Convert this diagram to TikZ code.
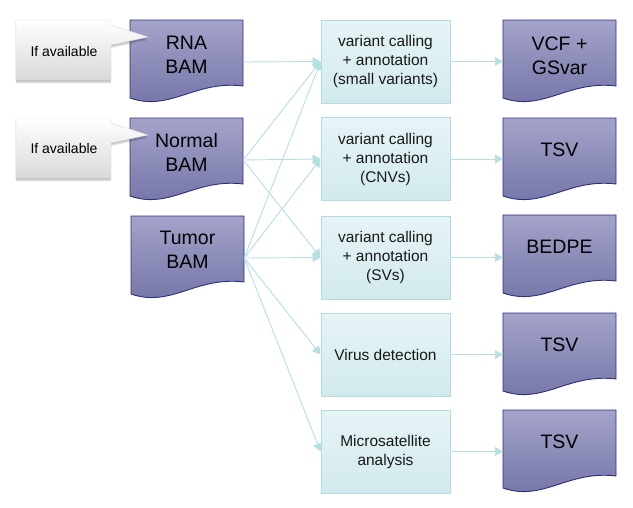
\documentclass[tikz,border=0pt]{standalone}
\usepackage{fontspec}
\setmainfont{Liberation Sans}
\usetikzlibrary{arrows.meta}
\definecolor{docTop}{HTML}{A3A3CA}
\definecolor{docBot}{HTML}{7272A6}
\definecolor{docBorder}{HTML}{2F2F80}
\definecolor{procTop}{HTML}{E6F4F6}
\definecolor{procBot}{HTML}{D2EAED}
\definecolor{procBorder}{HTML}{B3DDE2}
\definecolor{arrowCol}{HTML}{B5DFE3}
\definecolor{callBorder}{HTML}{DADADA}
\tikzset{
  docfill/.style={top color=docTop, bottom color=docBot, draw=docBorder, line width=0.9pt},
  docbox/.style={minimum width=113pt, minimum height=82pt, inner sep=0pt},
  doctext/.style={align=center, font=\fontsize{19.5}{24}\selectfont, text=black, inner sep=0pt},
  proc/.style={draw=procBorder, line width=0.9pt, top color=procTop, bottom color=procBot,
    minimum width=129pt, minimum height=83pt, align=center, inner sep=0pt,
    font=\fontsize{15.5}{19}\selectfont, text=black!90},
  callfill/.style={top color=white, middle color=black!3, bottom color=black!15, draw=callBorder, line width=0.4pt},
  callshadow/.style={fill=black, opacity=0.13},
  calltext/.style={font=\fontsize{14}{17}\selectfont, text=black, inner sep=0pt},
  conn/.style={draw=arrowCol, line width=0.9pt, -{Triangle[length=8pt,width=9pt]}},
}
\newcommand\docshape[2]{\path[docfill,shift={(#1,#2)}] (0,0) -- (113,0) -- (113,66) .. controls (65,60) and (40,92) .. (0,78) -- cycle;}
\newcommand\callpath{(0,0) -- (95,0) -- (95,5) -- (132,17) -- (95,25) -- (95,60) -- (0,60) -- cycle}
\newcommand\callshape[2]{%
  \path[callshadow,shift={(#1-0.5,#2+1.5)}] \callpath;
  \path[callshadow,shift={(#1,#2+3)}] \callpath;
  \path[callfill,shift={(#1,#2)}] \callpath;}
\begin{document}
\begin{tikzpicture}[x=1pt,y=-1pt]
\useasboundingbox (0,0) rectangle (633,507);

% input documents
\docshape{130}{20}
\docshape{130}{118}
\docshape{131}{216}
\node[docbox] (rna) at (186.5,62) {};
\node[docbox] (normal) at (186.5,160) {};
\node[docbox] (tumor) at (187.5,258) {};
\node[doctext] (rnat) at (186.5,55) {RNA\\BAM};
\node[doctext] (normalt) at (186.5,152) {Normal\\BAM};
\node[doctext] (tumort) at (187.5,250) {Tumor\\BAM};

% callouts (drawn over the documents)
\callshape{16}{20}
\callshape{16}{118}
\node[calltext] (call1) at (64,51) {If available};
\node[calltext] (call2) at (64,148) {If available};

% processing
\node[proc] (small) at (385.5,61.5) {variant calling\\+ annotation\\(small variants)};
\node[proc] (cnv) at (385.5,159) {variant calling\\+ annotation\\(CNVs)};
\node[proc] (sv) at (385.5,257.5) {variant calling\\+ annotation\\(SVs)};
\node[proc] (virus) at (385.5,354.5) {Virus detection};
\node[proc] (msi) at (385.5,451.5) {Microsatellite\\analysis};

% output documents
\docshape{503}{20}
\docshape{503}{118}
\docshape{503}{215}
\docshape{503}{313}
\docshape{503}{410}
\node[docbox] (vcf) at (559.5,62) {};
\node[docbox] (tsv1) at (559.5,160) {};
\node[docbox] (bedpe) at (559.5,257) {};
\node[docbox] (tsv2) at (559.5,355) {};
\node[docbox] (tsv3) at (559.5,452) {};
\node[doctext] (vcft) at (559.5,56) {VCF +\\GSvar};
\node[doctext] (tsv1t) at (559.5,150) {TSV};
\node[doctext] (bedpet) at (559.5,247) {BEDPE};
\node[doctext] (tsv2t) at (559.5,345) {TSV};
\node[doctext] (tsv3t) at (559.5,442) {TSV};

% connectors
\draw[conn] (rna.east) -- (small.west);
\draw[conn] (normal.east) -- (small.west);
\draw[conn] (normal.east) -- (cnv.west);
\draw[conn] (normal.east) -- (sv.west);
\draw[conn] (tumor.east) -- (small.west);
\draw[conn] (tumor.east) -- (cnv.west);
\draw[conn] (tumor.east) -- (sv.west);
\draw[conn] (tumor.east) -- (virus.west);
\draw[conn] (tumor.east) -- (msi.west);
\draw[conn] (small.east) -- (small.east -| vcf.west);
\draw[conn] (cnv.east) -- (cnv.east -| tsv1.west);
\draw[conn] (sv.east) -- (sv.east -| bedpe.west);
\draw[conn] (virus.east) -- (virus.east -| tsv2.west);
\draw[conn] (msi.east) -- (msi.east -| tsv3.west);
\end{tikzpicture}
\end{document}
